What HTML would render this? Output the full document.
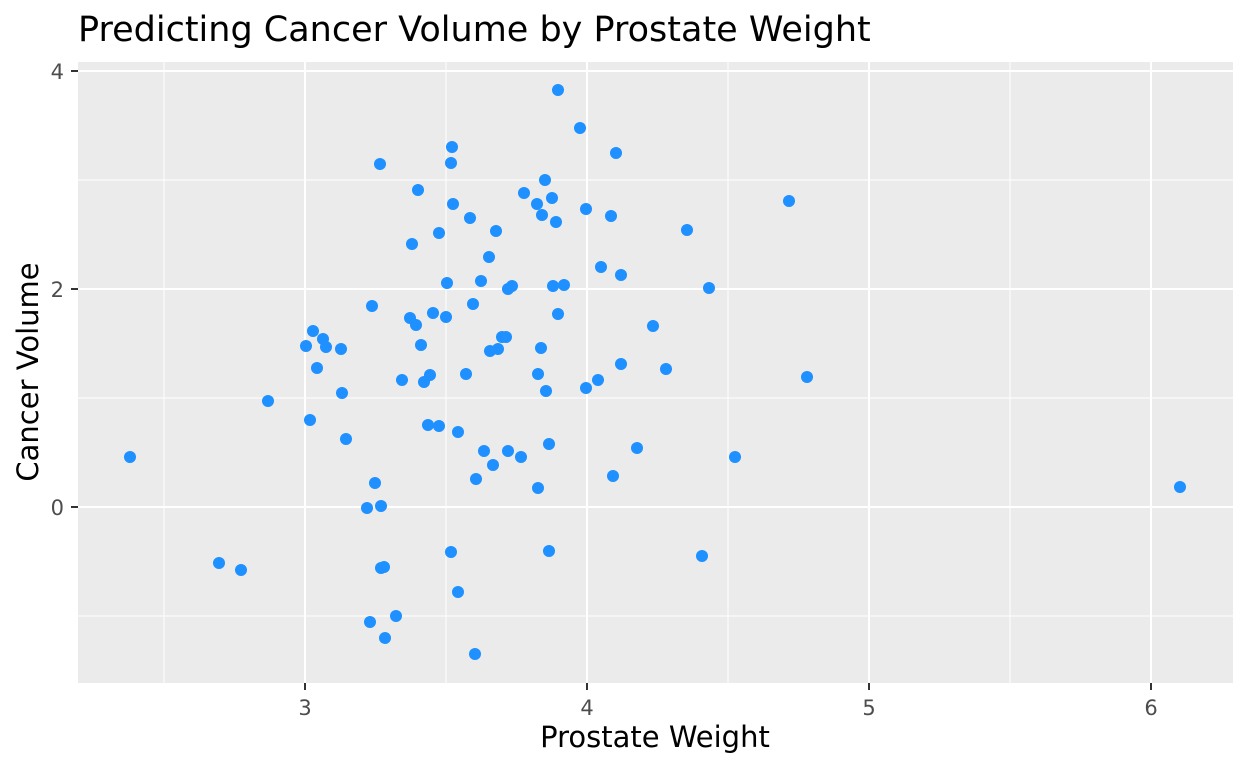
<!DOCTYPE html><html><head><style>body{margin:0;background:#fff}svg{display:block}</style></head><body>
<svg width="1248" height="768" xmlns="http://www.w3.org/2000/svg" font-family="DejaVu Sans, sans-serif">
<rect x="78" y="62" width="1155" height="621" fill="#EBEBEB"/>
<g stroke="#fff" stroke-width="1">
<line x1="164" x2="164" y1="62" y2="683"/><line x1="446" x2="446" y1="62" y2="683"/><line x1="728" x2="728" y1="62" y2="683"/><line x1="1010" x2="1010" y1="62" y2="683"/>
<line x1="78" x2="1233" y1="180" y2="180"/><line x1="78" x2="1233" y1="398" y2="398"/><line x1="78" x2="1233" y1="616" y2="616"/>
</g>
<g stroke="#fff" stroke-width="2">
<line x1="305" x2="305" y1="62" y2="683"/><line x1="587" x2="587" y1="62" y2="683"/><line x1="869" x2="869" y1="62" y2="683"/><line x1="1151" x2="1151" y1="62" y2="683"/>
<line x1="78" x2="1233" y1="71" y2="71"/><line x1="78" x2="1233" y1="289" y2="289"/><line x1="78" x2="1233" y1="507" y2="507"/>
</g>
<g stroke="#333" stroke-width="2">
<line x1="71" x2="78" y1="71" y2="71"/><line x1="71" x2="78" y1="289" y2="289"/><line x1="71" x2="78" y1="507" y2="507"/>
<line x1="305" x2="305" y1="683" y2="690"/><line x1="587" x2="587" y1="683" y2="690"/><line x1="869" x2="869" y1="683" y2="690"/><line x1="1151" x2="1151" y1="683" y2="690"/>
</g>
<g fill="#4D4D4D" font-size="21" text-anchor="end">
<text x="64" y="79">4</text><text x="64" y="297">2</text><text x="64" y="515">0</text>
</g>
<g fill="#4D4D4D" font-size="21" text-anchor="middle">
<text x="305" y="715">3</text><text x="587" y="715">4</text><text x="869" y="715">5</text><text x="1151" y="715">6</text>
</g>
<text x="655" y="747" font-size="29" text-anchor="middle" fill="#000">Prostate Weight</text>
<text transform="translate(38,372) rotate(-90)" font-size="29" text-anchor="middle" fill="#000">Cancer Volume</text>
<text x="78" y="41" font-size="35" fill="#000">Predicting Cancer Volume by Prostate Weight</text>
<g fill="#1E90FF" id="pts"></g>
</svg>
<script>
var p=[[130,457],[219,563],[241,570],[268,401],[306,346],[310,420],[313,331],[317,368],[323,339],[326,347],[341,349],[342,393],[346,439],[367,508],[372,306],[375,483],[380,164],[381,506],[381,568],[384,567],[385,638],[396,616],[370,622],[402,380],[410,318],[412,244],[416,325],[418,190],[421,345],[424,382],[428,425],[430,375],[433,313],[439,426],[439,233],[446,317],[447,283],[451,552],[451,163],[452,147],[453,204],[458,432],[458,592],[466,374],[470,218],[473,304],[475,654],[476,479],[481,281],[484,451],[489,257],[490,351],[493,465],[496,231],[498,349],[502,337],[506,337],[508,289],[508,451],[512,286],[521,457],[524,193],[537,204],[538,488],[538,374],[541,348],[542,215],[545,180],[546,391],[549,551],[549,444],[552,198],[553,286],[556,222],[558,314],[558,90],[564,285],[580,128],[586,388],[586,209],[598,380],[601,267],[611,216],[613,476],[616,153],[621,275],[621,364],[637,448],[653,326],[666,369],[687,230],[702,556],[709,288],[735,457],[789,201],[807,377],[1180,487]];
var g=document.getElementById('pts'),s='';p.forEach(function(a){s+='<circle cx="'+a[0]+'" cy="'+a[1]+'" r="6"/>';});g.innerHTML=s;
</script>
</body></html>
